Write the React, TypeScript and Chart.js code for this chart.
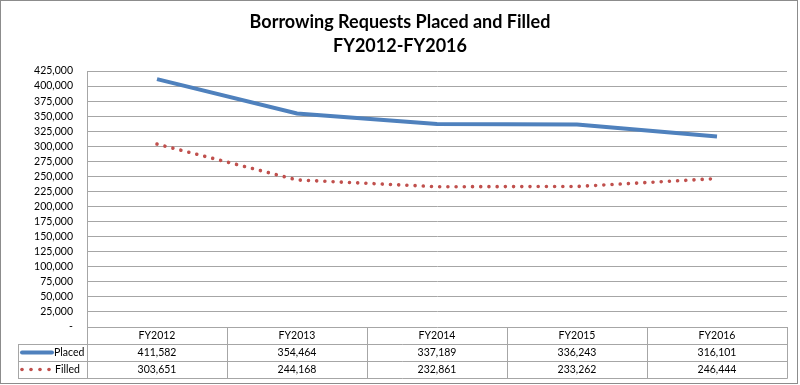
import React, { useEffect, useRef } from "react";
import { Chart, registerables } from "chart.js";

Chart.register(...registerables);

const categories = ["FY2012", "FY2013", "FY2014", "FY2015", "FY2016"];
const placed = [411582, 354464, 337189, 336243, 316101];
const filled = [303651, 244168, 232861, 233262, 246444];
const titleLines = ["Borrowing Requests Placed and Filled", "FY2012-FY2016"];
const seriesNames = ["Placed", "Filled"];

const FONT = "Lato, 'Open Sans', sans-serif";
const BLUE = "#4F81BD";
const RED = "#C0504D";
const GRID = "#a6a6a6";

const fmt = (v: number) => v.toLocaleString("en-US");

const decorPlugin = {
  id: "decor",
  beforeDraw(chart: any) {
    const ctx = chart.ctx;
    ctx.save();
    ctx.fillStyle = "#ffffff";
    ctx.fillRect(0, 0, chart.width, chart.height);
    ctx.restore();
  },
  afterDraw(chart: any) {
    const ctx = chart.ctx;
    const area = chart.chartArea;
    const xs = chart.scales.x;
    ctx.save();

    // title
    ctx.fillStyle = "#000000";
    ctx.font = `bold 18px ${FONT}`;
    ctx.textAlign = "center";
    ctx.textBaseline = "alphabetic";
    ctx.fillText(titleLines[0], 400, 28);
    ctx.fillText(titleLines[1], 400, 52);

    // data table
    const rowTop = area.bottom;
    const rowH = 17;
    const tableBottom = rowTop + rowH * 3;
    const colW = (area.right - area.left) / categories.length;
    const legendLeft = 18;

    ctx.strokeStyle = GRID;
    ctx.lineWidth = 1;
    ctx.beginPath();
    for (let i = 0; i <= categories.length; i++) {
      const x = Math.round(area.left + colW * i) + 0.5;
      ctx.moveTo(x, rowTop);
      ctx.lineTo(x, tableBottom + 0.5);
    }
    ctx.moveTo(legendLeft + 0.5, rowTop + rowH);
    ctx.lineTo(legendLeft + 0.5, tableBottom + 0.5);
    for (let r = 1; r <= 3; r++) {
      const y = Math.round(rowTop + rowH * r) + 0.5;
      ctx.moveTo(legendLeft, y);
      ctx.lineTo(area.right + 0.5, y);
    }
    ctx.stroke();

    ctx.fillStyle = "#000000";
    ctx.font = `10.5px ${FONT}`;
    ctx.textAlign = "center";
    ctx.textBaseline = "middle";
    categories.forEach((c, i) => {
      const x = xs.getPixelForValue(i);
      ctx.fillText(c, x, rowTop + rowH * 0.5 + 0.5);
      ctx.fillText(fmt(placed[i]), x, rowTop + rowH * 1.5 + 0.5);
      ctx.fillText(fmt(filled[i]), x, rowTop + rowH * 2.5 + 0.5);
    });

    // legend keys
    const y1 = rowTop + rowH * 1.5;
    const y2 = rowTop + rowH * 2.5;
    ctx.strokeStyle = BLUE;
    ctx.lineWidth = 4;
    ctx.lineCap = "round";
    ctx.beginPath();
    ctx.moveTo(22, y1);
    ctx.lineTo(52, y1);
    ctx.stroke();
    ctx.fillStyle = RED;
    [22, 31, 40, 49].forEach((x) => {
      ctx.beginPath();
      ctx.arc(x, y2, 1.8, 0, Math.PI * 2);
      ctx.fill();
    });
    ctx.fillStyle = "#000000";
    ctx.textAlign = "left";
    ctx.fillText(seriesNames[0], 54, y1 + 0.5);
    ctx.fillText(seriesNames[1], 55, y2 + 0.5);

    // outer border
    ctx.strokeStyle = "#8c8c8c";
    ctx.lineWidth = 1;
    ctx.strokeRect(0.5, 0.5, 797, 383);
    ctx.restore();
  },
};

export default function App() {
  const ref = useRef<HTMLCanvasElement | null>(null);

  useEffect(() => {
    document.body.style.margin = "0";
    if (!ref.current) return;
    const chart = new Chart(ref.current, {
      type: "line",
      data: {
        labels: categories,
        datasets: [
          {
            label: seriesNames[0],
            data: placed,
            borderColor: BLUE,
            backgroundColor: BLUE,
            borderWidth: 4,
            pointRadius: 0,
            tension: 0,
            fill: false,
          },
          {
            label: seriesNames[1],
            data: filled,
            borderColor: RED,
            backgroundColor: RED,
            borderWidth: 3.6,
            borderDash: [0.01, 8.2],
            borderCapStyle: "round",
            pointRadius: 0,
            tension: 0,
            fill: false,
          },
        ],
      },
      options: {
        responsive: false,
        animation: false,
        layout: { padding: { top: 71, right: 13, bottom: 58, left: 0 } },
        plugins: {
          legend: { display: false },
          title: { display: false },
          tooltip: { enabled: false },
        },
        scales: {
          x: {
            type: "category",
            display: false,
            offset: true,
          },
          y: {
            min: 0,
            max: 425000,
            afterFit(scale: any) {
              scale.width = 87;
            },
            ticks: {
              stepSize: 25000,
              maxTicksLimit: 100,
              autoSkip: false,
              padding: 14,
              color: "#000000",
              font: { family: FONT, size: 10.5 },
              callback: (v: any) => (Number(v) === 0 ? "-" : fmt(Number(v))),
            },
            grid: { color: GRID, drawTicks: false, lineWidth: 1 },
            border: { display: true, color: GRID, width: 1 },
          },
        },
      },
      plugins: [decorPlugin],
    });
    return () => chart.destroy();
  }, []);

  return (
    <div style={{ position: "absolute", left: 0, top: 0, width: 800, height: 385 }}>
      <canvas ref={ref} width={800} height={385} style={{ display: "block" }} />
    </div>
  );
}
